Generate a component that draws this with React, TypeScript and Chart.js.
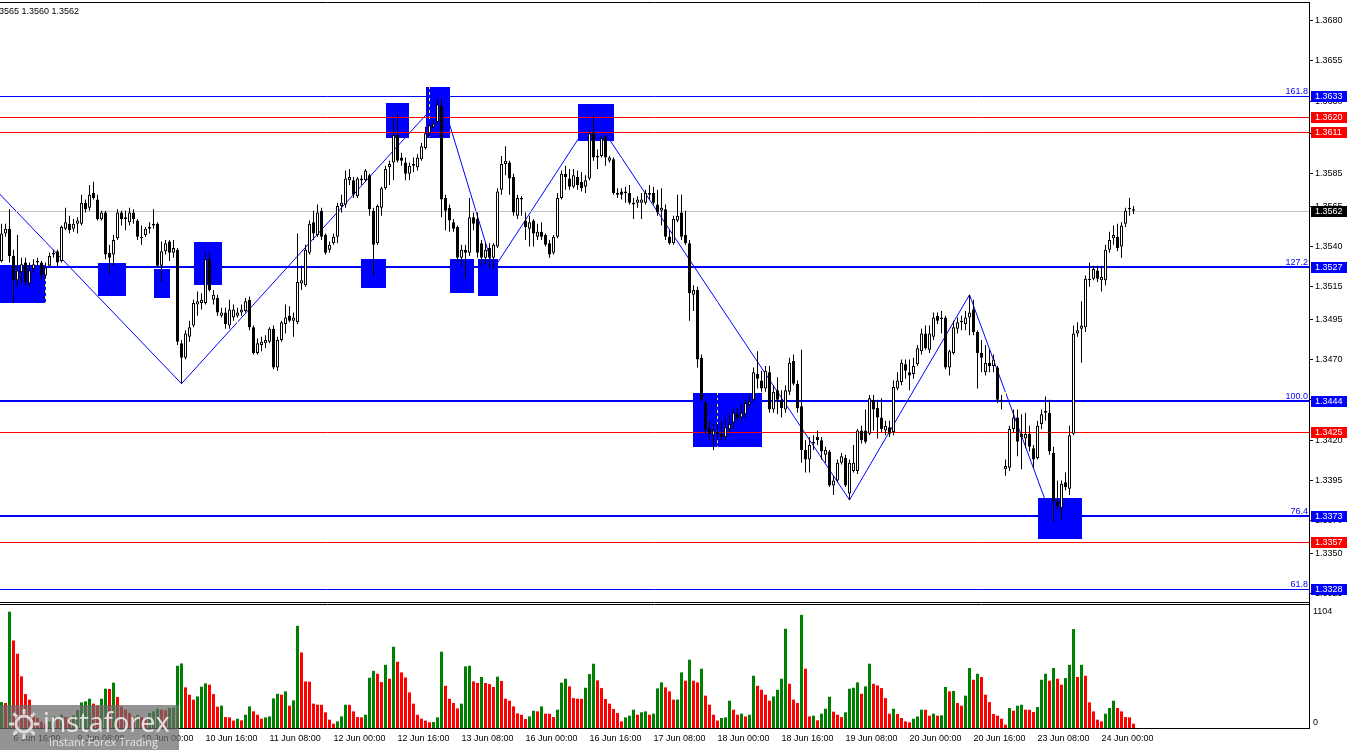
import { useEffect, useRef } from 'react';
import { Chart, registerables } from 'chart.js';

Chart.register(...registerables);

const FONT = '"Liberation Sans", Arial, sans-serif';

// H1 bars; bar 0 = 9 Jun 00:00, first visible bar = 6 Jun 13:00
const firstBarIndex = -11;

const opens = [
  1.3531,1.3548,1.3551,1.3534,1.3519,1.3524,1.3530,1.3517,1.3526,1.3530,1.3530,1.3522,
  1.3528,1.3535,1.3537,1.3531,1.3551,1.3554,1.3551,1.3554,1.3554,1.3567,1.3564,1.3573,
  1.3569,1.3557,1.3561,1.3536,1.3535,1.3545,1.3561,1.3558,1.3555,1.3561,1.3556,1.3546,
  1.3547,1.3551,1.3554,1.3554,1.3528,1.3537,1.3543,1.3536,1.3538,1.3480,1.3471,1.3484,
  1.3491,1.3504,1.3505,1.3505,1.3532,1.3507,1.3508,1.3497,1.3499,1.3491,1.3496,1.3497,
  1.3499,1.3500,1.3507,1.3490,1.3474,1.3479,1.3480,1.3481,1.3489,1.3465,1.3482,1.3492,
  1.3497,1.3494,1.3493,1.3517,1.3516,1.3536,1.3555,1.3547,1.3562,1.3547,1.3538,1.3542,
  1.3546,1.3565,1.3566,1.3581,1.3581,1.3571,1.3581,1.3581,1.3584,1.3562,1.3542,1.3564,
  1.3576,1.3589,1.3592,1.3609,1.3595,1.3592,1.3585,1.3591,1.3589,1.3594,1.3601,1.3610,
  1.3614,1.3617,1.3627,1.3570,1.3564,1.3555,1.3552,1.3533,1.3538,1.3536,1.3558,1.3557,
  1.3542,1.3533,1.3539,1.3533,1.3540,1.3575,1.3591,1.3592,1.3583,1.3559,1.3570,1.3556,
  1.3551,1.3556,1.3546,1.3549,1.3547,1.3542,1.3536,1.3546,1.3570,1.3585,1.3582,1.3577,
  1.3583,1.3580,1.3577,1.3582,1.3611,1.3596,1.3596,1.3608,1.3593,1.3594,1.3573,1.3574,
  1.3574,1.3573,1.3567,1.3567,1.3567,1.3567,1.3573,1.3573,1.3566,1.3562,1.3563,1.3546,
  1.3542,1.3556,1.3561,1.3547,1.3542,1.3510,1.3513,1.3471,1.3443,1.3427,1.3423,1.3424,
  1.3424,1.3422,1.3427,1.3431,1.3436,1.3434,1.3436,1.3442,1.3445,1.3461,1.3457,1.3452,
  1.3462,1.3439,1.3451,1.3445,1.3439,1.3450,1.3469,1.3455,1.3441,1.3414,1.3408,1.3418,
  1.3422,1.3420,1.3411,1.3413,1.3392,1.3395,1.3406,1.3409,1.3387,1.3401,1.3401,1.3426,
  1.3426,1.3424,1.3445,1.3440,1.3434,1.3426,1.3428,1.3425,1.3452,1.3456,1.3467,1.3462,
  1.3461,1.3467,1.3475,1.3486,1.3476,1.3484,1.3497,1.3496,1.3496,1.3465,1.3474,1.3489,
  1.3493,1.3492,1.3496,1.3501,1.3487,1.3474,1.3462,1.3468,1.3466,1.3465,1.3444,1.3402,
  1.3403,1.3427,1.3434,1.3424,1.3421,1.3424,1.3415,1.3409,1.3430,1.3437,1.3437,1.3412,
  1.3382,1.3378,1.3394,1.3390,1.3424,1.3486,1.3489,1.3490,1.3520,1.3520,1.3525,1.3519,
  1.3519,1.3538,1.3545,1.3546,1.3540,1.3554,1.3563,1.3563,
];

const highs = [
  1.3554,1.3554,1.3563,1.3538,1.3547,1.3533,1.3533,1.3530,1.3532,1.3533,1.3531,1.3530,
  1.3536,1.3538,1.3538,1.3553,1.3564,1.3559,1.3557,1.3558,1.3572,1.3569,1.3578,1.3580,
  1.3572,1.3562,1.3562,1.3541,1.3547,1.3563,1.3562,1.3562,1.3564,1.3563,1.3557,1.3553,
  1.3552,1.3555,1.3563,1.3555,1.3543,1.3544,1.3544,1.3544,1.3539,1.3482,1.3488,1.3494,
  1.3507,1.3512,1.3511,1.3536,1.3536,1.3513,1.3510,1.3502,1.3502,1.3507,1.3504,1.3502,
  1.3504,1.3508,1.3509,1.3491,1.3483,1.3484,1.3485,1.3490,1.3491,1.3484,1.3494,1.3504,
  1.3503,1.3499,1.3548,1.3528,1.3541,1.3556,1.3562,1.3566,1.3564,1.3548,1.3543,1.3548,
  1.3567,1.3572,1.3587,1.3588,1.3583,1.3583,1.3584,1.3588,1.3585,1.3564,1.3566,1.3577,
  1.3590,1.3593,1.3619,1.3622,1.3598,1.3595,1.3592,1.3595,1.3597,1.3604,1.3614,1.3617,
  1.3618,1.3631,1.3632,1.3572,1.3566,1.3557,1.3553,1.3541,1.3541,1.3570,1.3561,1.3561,
  1.3544,1.3542,1.3542,1.3542,1.3576,1.3596,1.3602,1.3593,1.3585,1.3572,1.3571,1.3561,
  1.3559,1.3557,1.3554,1.3555,1.3548,1.3544,1.3547,1.3573,1.3587,1.3590,1.3588,1.3588,
  1.3587,1.3586,1.3584,1.3612,1.3621,1.3600,1.3608,1.3609,1.3596,1.3595,1.3576,1.3576,
  1.3577,1.3578,1.3570,1.3571,1.3573,1.3575,1.3578,1.3577,1.3575,1.3576,1.3566,1.3550,
  1.3559,1.3572,1.3572,1.3562,1.3544,1.3516,1.3515,1.3473,1.3445,1.3432,1.3430,1.3430,
  1.3432,1.3434,1.3436,1.3439,1.3440,1.3442,1.3445,1.3448,1.3465,1.3475,1.3463,1.3466,
  1.3466,1.3454,1.3459,1.3451,1.3454,1.3471,1.3473,1.3457,1.3476,1.3420,1.3422,1.3423,
  1.3426,1.3422,1.3416,1.3414,1.3398,1.3408,1.3412,1.3411,1.3408,1.3417,1.3427,1.3429,
  1.3439,1.3448,1.3448,1.3445,1.3446,1.3432,1.3432,1.3457,1.3462,1.3470,1.3470,1.3470,
  1.3471,1.3479,1.3489,1.3491,1.3491,1.3499,1.3499,1.3500,1.3497,1.3476,1.3494,1.3496,
  1.3497,1.3500,1.3510,1.3507,1.3488,1.3482,1.3479,1.3476,1.3473,1.3466,1.3448,1.3408,
  1.3429,1.3439,1.3439,1.3436,1.3437,1.3429,1.3417,1.3432,1.3439,1.3447,1.3445,1.3416,
  1.3395,1.3395,1.3400,1.3429,1.3491,1.3493,1.3506,1.3522,1.3530,1.3528,1.3528,1.3528,
  1.3541,1.3549,1.3553,1.3554,1.3555,1.3564,1.3570,1.3565,
];

const lows = [
  1.3530,1.3546,1.3530,1.3505,1.3515,1.3517,1.3516,1.3515,1.3524,1.3528,1.3519,1.3520,
  1.3527,1.3533,1.3527,1.3530,1.3550,1.3548,1.3549,1.3548,1.3553,1.3561,1.3562,1.3569,
  1.3556,1.3556,1.3532,1.3523,1.3528,1.3544,1.3553,1.3550,1.3553,1.3554,1.3544,1.3541,
  1.3546,1.3548,1.3551,1.3527,1.3518,1.3535,1.3531,1.3533,1.3479,1.3455,1.3470,1.3481,
  1.3490,1.3497,1.3501,1.3504,1.3512,1.3504,1.3497,1.3496,1.3489,1.3489,1.3494,1.3496,
  1.3497,1.3499,1.3488,1.3473,1.3473,1.3475,1.3477,1.3480,1.3464,1.3463,1.3481,1.3486,
  1.3493,1.3484,1.3492,1.3513,1.3515,1.3535,1.3544,1.3546,1.3544,1.3535,1.3536,1.3541,
  1.3542,1.3561,1.3564,1.3578,1.3570,1.3570,1.3578,1.3580,1.3559,1.3522,1.3541,1.3559,
  1.3575,1.3578,1.3581,1.3592,1.3590,1.3581,1.3581,1.3586,1.3587,1.3593,1.3600,1.3608,
  1.3613,1.3616,1.3558,1.3550,1.3549,1.3549,1.3530,1.3528,1.3520,1.3534,1.3550,1.3533,
  1.3528,1.3529,1.3527,1.3526,1.3539,1.3572,1.3584,1.3572,1.3559,1.3557,1.3559,1.3544,
  1.3540,1.3540,1.3544,1.3544,1.3540,1.3533,1.3535,1.3545,1.3569,1.3575,1.3575,1.3576,
  1.3575,1.3574,1.3573,1.3581,1.3593,1.3588,1.3595,1.3590,1.3592,1.3572,1.3570,1.3569,
  1.3567,1.3566,1.3557,1.3564,1.3557,1.3566,1.3569,1.3566,1.3559,1.3553,1.3544,1.3541,
  1.3541,1.3555,1.3544,1.3541,1.3494,1.3500,1.3465,1.3444,1.3424,1.3420,1.3414,1.3420,
  1.3420,1.3420,1.3425,1.3427,1.3432,1.3432,1.3434,1.3440,1.3444,1.3452,1.3450,1.3450,
  1.3437,1.3437,1.3436,1.3434,1.3437,1.3448,1.3454,1.3437,1.3406,1.3400,1.3400,1.3414,
  1.3417,1.3408,1.3406,1.3391,1.3386,1.3394,1.3405,1.3391,1.3383,1.3400,1.3399,1.3418,
  1.3418,1.3423,1.3426,1.3421,1.3425,1.3423,1.3422,1.3423,1.3451,1.3454,1.3458,1.3451,
  1.3458,1.3466,1.3473,1.3476,1.3474,1.3482,1.3492,1.3486,1.3464,1.3460,1.3473,1.3486,
  1.3488,1.3488,1.3485,1.3485,1.3452,1.3462,1.3460,1.3462,1.3462,1.3443,1.3439,1.3398,
  1.3401,1.3425,1.3410,1.3402,1.3415,1.3413,1.3403,1.3408,1.3427,1.3432,1.3411,1.3369,
  1.3377,1.3371,1.3389,1.3386,1.3423,1.3484,1.3468,1.3487,1.3515,1.3519,1.3518,1.3512,
  1.3516,1.3536,1.3541,1.3537,1.3533,1.3552,1.3559,1.3560,
];

const closes = [
  1.3548,1.3551,1.3534,1.3519,1.3525,1.3529,1.3518,1.3525,1.3529,1.3531,1.3522,1.3527,
  1.3534,1.3536,1.3530,1.3552,1.3555,1.3550,1.3554,1.3556,1.3567,1.3563,1.3572,1.3570,
  1.3557,1.3561,1.3535,1.3533,1.3544,1.3561,1.3557,1.3557,1.3561,1.3557,1.3546,1.3545,
  1.3551,1.3552,1.3553,1.3528,1.3537,1.3542,1.3536,1.3539,1.3481,1.3471,1.3486,1.3490,
  1.3505,1.3506,1.3507,1.3532,1.3513,1.3510,1.3499,1.3499,1.3492,1.3501,1.3501,1.3499,
  1.3501,1.3506,1.3490,1.3474,1.3480,1.3481,1.3482,1.3489,1.3465,1.3482,1.3493,1.3496,
  1.3494,1.3496,1.3518,1.3519,1.3538,1.3554,1.3548,1.3561,1.3546,1.3536,1.3541,1.3546,
  1.3565,1.3567,1.3582,1.3583,1.3572,1.3582,1.3582,1.3587,1.3563,1.3541,1.3565,1.3576,
  1.3588,1.3591,1.3609,1.3593,1.3593,1.3585,1.3590,1.3590,1.3595,1.3602,1.3610,1.3615,
  1.3616,1.3628,1.3569,1.3562,1.3556,1.3551,1.3533,1.3538,1.3536,1.3558,1.3554,1.3536,
  1.3533,1.3538,1.3533,1.3541,1.3574,1.3591,1.3593,1.3582,1.3561,1.3570,1.3569,1.3552,
  1.3555,1.3548,1.3549,1.3546,1.3541,1.3535,1.3546,1.3570,1.3585,1.3583,1.3577,1.3584,
  1.3578,1.3576,1.3581,1.3610,1.3595,1.3595,1.3607,1.3595,1.3595,1.3573,1.3572,1.3572,
  1.3573,1.3567,1.3566,1.3569,1.3569,1.3573,1.3572,1.3567,1.3561,1.3564,1.3546,1.3542,
  1.3557,1.3559,1.3546,1.3542,1.3511,1.3513,1.3470,1.3445,1.3426,1.3424,1.3426,1.3425,
  1.3422,1.3428,1.3430,1.3437,1.3434,1.3437,1.3443,1.3444,1.3462,1.3458,1.3452,1.3463,
  1.3439,1.3450,1.3445,1.3440,1.3451,1.3468,1.3455,1.3440,1.3414,1.3408,1.3417,1.3419,
  1.3420,1.3413,1.3414,1.3392,1.3395,1.3406,1.3410,1.3392,1.3406,1.3406,1.3426,1.3420,
  1.3419,1.3446,1.3439,1.3434,1.3427,1.3429,1.3424,1.3453,1.3457,1.3468,1.3463,1.3460,
  1.3466,1.3477,1.3486,1.3477,1.3486,1.3496,1.3494,1.3495,1.3465,1.3475,1.3490,1.3493,
  1.3494,1.3496,1.3499,1.3487,1.3474,1.3471,1.3468,1.3466,1.3470,1.3445,1.3445,1.3404,
  1.3427,1.3434,1.3419,1.3422,1.3424,1.3416,1.3408,1.3429,1.3436,1.3438,1.3413,1.3382,
  1.3379,1.3393,1.3391,1.3423,1.3486,1.3488,1.3491,1.3520,1.3519,1.3526,1.3520,1.3521,
  1.3538,1.3544,1.3547,1.3539,1.3553,1.3562,1.3564,1.3562,
];

const volumes = [
  246,237,1104,831,705,490,322,269,142,95,60,41,
  60,110,95,126,105,100,120,170,243,253,278,231,
  212,278,373,370,430,294,205,174,142,110,126,104,
  95,142,158,183,174,167,190,196,591,613,386,316,
  269,300,392,424,411,322,202,212,104,101,70,88,
  73,126,205,158,126,88,101,110,281,325,316,348,
  212,262,970,717,442,440,231,221,220,149,79,41,
  63,110,221,220,158,104,101,126,477,543,515,436,
  600,468,771,629,528,480,338,231,126,88,70,54,
  57,101,724,401,278,237,186,231,585,591,442,427,
  484,427,417,389,487,446,278,259,205,139,126,85,
  110,164,158,205,136,135,104,174,430,468,395,284,
  278,277,382,512,610,452,379,275,231,180,142,63,
  101,117,174,126,149,158,126,136,376,433,386,348,
  269,270,528,449,648,449,433,563,307,221,126,70,
  95,101,259,174,126,136,110,126,496,401,363,316,
  259,300,363,468,942,420,269,237,1074,563,110,117,
  73,136,183,297,155,126,104,149,373,382,433,325,
  395,610,420,404,379,284,136,183,133,95,63,54,
  88,110,174,173,117,136,117,120,389,348,352,237,
  212,307,569,458,515,484,316,246,133,117,88,32,
  190,164,212,221,174,173,152,199,458,515,449,569,
  468,411,474,600,939,484,600,496,243,158,79,63,
  136,190,259,190,158,104,101,41,
];

const timeLabelBars = [-8, 8, 24, 40, 56, 72, 88, 104, 120, 136, 152, 168, 184, 200, 216, 232, 248, 264];
const timeLabels = [
  '6 Jun 16:00', '9 Jun 08:00', '10 Jun 00:00', '10 Jun 16:00', '11 Jun 08:00', '12 Jun 00:00',
  '12 Jun 16:00', '13 Jun 08:00', '16 Jun 00:00', '16 Jun 16:00', '17 Jun 08:00', '18 Jun 00:00',
  '18 Jun 16:00', '19 Jun 08:00', '20 Jun 00:00', '20 Jun 16:00', '23 Jun 08:00', '24 Jun 00:00',
];
const dayStartBars = [0, 24, 48, 72, 96, 120, 144, 168, 192, 216, 240, 264, 288, 312];

const priceTicks = [1.3680, 1.3655, 1.3630, 1.3610, 1.3585, 1.3565, 1.3540, 1.3515, 1.3495, 1.3470, 1.3445, 1.3420, 1.3395, 1.3370, 1.3350, 1.3325];
const volumeTicks = [1104, 0];

const zigzagBars = [-14, 34, 99, 112, 137, 201, 231, 252];
const zigzagPrices = [1.3579, 1.3455, 1.3632, 1.3526, 1.3621, 1.3383, 1.3510, 1.3369];

const boxStartBars = [-12, 13, 27, 37, 79, 85, 95, 101, 108, 133, 162, 248];
const boxEndBars = [0, 20, 31, 44, 85, 91, 101, 107, 113, 142, 179, 259];
const boxTopPrices = [1.35285, 1.3530, 1.3526, 1.3543, 1.3532, 1.3629, 1.3639, 1.3532, 1.3532, 1.3628, 1.3449, 1.3384];
const boxBottomPrices = [1.3505, 1.3509, 1.3508, 1.3516, 1.3514, 1.3607, 1.3607, 1.3511, 1.3509, 1.3605, 1.3416, 1.3359];

const levelPrices = [1.3633, 1.3620, 1.3611, 1.3527, 1.3444, 1.3425, 1.3373, 1.3357, 1.3328];
const levelNames = ['161.8', '', '', '127.2', '100.0', '', '76.4', '', '61.8'];
const levelKinds = ['fibMinor', 'sr', 'sr', 'fib', 'fib', 'sr', 'fib', 'sr', 'fibMinor'];
const bidPrice = 1.3562;
const ohlcText = '3565 1.3560 1.3562';

const KIND_STYLE: Record<string, { color: string; width: number }> = {
  fib: { color: '#0000ff', width: 2 },
  fibMinor: { color: '#0000ff', width: 1 },
  sr: { color: '#ff0000', width: 1 },
};

const PRICE_PANE_BOTTOM = 602;
const VOLUME_PANE_TOP = 604;

export default function App() {
  const ref = useRef<HTMLCanvasElement>(null);

  useEffect(() => {
    document.body.style.margin = '0';
    const canvas = ref.current;
    if (!canvas) return;

    const bars = opens.map((_, k) => firstBarIndex + k);
    const wickData = bars.map((b, k) => ({ x: b, y: [lows[k], highs[k]] }));
    const bodyData = bars.map((b, k) => {
      let lo = Math.min(opens[k], closes[k]);
      let hi = Math.max(opens[k], closes[k]);
      if (hi - lo < 0.00007) {
        const m = (hi + lo) / 2;
        lo = m - 0.000035;
        hi = m + 0.000035;
      }
      return { x: b, y: [lo, hi] };
    });
    const bodyColors = opens.map((o, k) => (closes[k] > o ? '#ffffff' : '#000000'));
    const volData = bars.map((b, k) => ({ x: b, y: volumes[k] }));
    const volColors = volumes.map((v, k) => (k === 0 || v > volumes[k - 1] ? '#008000' : '#ff0000'));
    const zigData = zigzagBars.map((b, k) => ({ x: b, y: zigzagPrices[k] }));

    const mt4Plugin = {
      id: 'mt4',
      afterDatasetDraw(chart: any, args: any) {
        if (args.index !== 3) return;
        const { ctx, chartArea: ca } = chart;
        const xs = chart.scales.x;
        const ys = chart.scales.y;
        // rectangles (price pane only)
        ctx.save();
        ctx.beginPath();
        ctx.rect(ca.left, ca.top, ca.right - ca.left, PRICE_PANE_BOTTOM - ca.top);
        ctx.clip();
        ctx.fillStyle = '#0000ff';
        boxStartBars.forEach((s, k) => {
          const x1 = Math.round(xs.getPixelForValue(s));
          const x2 = Math.round(xs.getPixelForValue(boxEndBars[k]));
          const y1 = Math.round(ys.getPixelForValue(boxTopPrices[k]));
          const y2 = Math.round(ys.getPixelForValue(boxBottomPrices[k]));
          ctx.fillRect(x1, y1, x2 - x1, y2 - y1);
        });
        ctx.restore();

        // dashed day separators (inverted like MT4 grid)
        ctx.save();
        ctx.globalCompositeOperation = 'difference';
        ctx.strokeStyle = '#ffffff';
        ctx.lineWidth = 1;
        ctx.setLineDash([3, 3]);
        dayStartBars.forEach((d) => {
          const px = xs.getPixelForValue(d);
          if (px < ca.left || px > ca.right - 1) return;
          ctx.beginPath();
          ctx.moveTo(px, ca.top);
          ctx.lineTo(px, ca.bottom);
          ctx.stroke();
        });
        ctx.restore();

        // levels + bid line
        ctx.save();
        ctx.beginPath();
        ctx.rect(ca.left, ca.top, ca.right - ca.left, PRICE_PANE_BOTTOM - ca.top);
        ctx.clip();
        const bidY = Math.round(ys.getPixelForValue(bidPrice)) + 0.5;
        ctx.strokeStyle = '#c0c0c0';
        ctx.lineWidth = 1;
        ctx.beginPath();
        ctx.moveTo(ca.left, bidY);
        ctx.lineTo(ca.right, bidY);
        ctx.stroke();
        levelPrices.forEach((p, k) => {
          const st = KIND_STYLE[levelKinds[k]];
          const py = Math.round(ys.getPixelForValue(p));
          ctx.strokeStyle = st.color;
          ctx.lineWidth = st.width;
          const yy = st.width % 2 === 1 ? py + 0.5 : py;
          ctx.beginPath();
          ctx.moveTo(ca.left, yy);
          ctx.lineTo(ca.right, yy);
          ctx.stroke();
        });
        ctx.restore();
      },
      afterDraw(chart: any) {
        const { ctx, chartArea: ca } = chart;
        const ys = chart.scales.y;
        const yv = chart.scales.yv;
        ctx.save();
        // pane frames
        ctx.strokeStyle = '#000000';
        ctx.lineWidth = 1;
        ctx.beginPath();
        ctx.moveTo(0, ca.top + 0.5);
        ctx.lineTo(ca.right, ca.top + 0.5);
        ctx.moveTo(0, PRICE_PANE_BOTTOM + 0.5);
        ctx.lineTo(ca.right, PRICE_PANE_BOTTOM + 0.5);
        ctx.moveTo(0, VOLUME_PANE_TOP + 0.5);
        ctx.lineTo(ca.right, VOLUME_PANE_TOP + 0.5);
        ctx.stroke();
        ctx.fillStyle = '#ffffff';
        ctx.fillRect(0, PRICE_PANE_BOTTOM + 1, ca.right, VOLUME_PANE_TOP - PRICE_PANE_BOTTOM - 1);

        ctx.font = `9px ${FONT}`;
        // level names
        ctx.textAlign = 'right';
        ctx.textBaseline = 'alphabetic';
        ctx.fillStyle = '#0000ff';
        levelPrices.forEach((p, k) => {
          if (!levelNames[k]) return;
          const py = Math.round(ys.getPixelForValue(p));
          ctx.fillText(levelNames[k], ca.right - 1, py - 2);
        });
        // axis tags
        ctx.textAlign = 'left';
        ctx.textBaseline = 'middle';
        const tag = (p: number, bg: string) => {
          const py = Math.round(ys.getPixelForValue(p));
          ctx.fillStyle = bg;
          ctx.fillRect(ca.right + 2, py - 5, 36, 11);
          ctx.fillStyle = '#ffffff';
          ctx.fillText(p.toFixed(4), ca.right + 6, py + 0.5);
        };
        tag(bidPrice, '#000000');
        levelPrices.forEach((p, k) => tag(p, KIND_STYLE[levelKinds[k]].color));

        // volume axis labels
        ctx.fillStyle = '#000000';
        volumeTicks.forEach((v) => {
          let py = yv.getPixelForValue(v);
          if (v === 0) py -= 5;
          ctx.fillText(String(v), ca.right + 4, py);
        });

        // OHLC info
        ctx.textBaseline = 'alphabetic';
        ctx.fillText(ohlcText, -1, 14);

        // watermark
        ctx.fillStyle = 'rgba(105,105,105,0.72)';
        ctx.fillRect(0, 705, 179, 45);
        ctx.strokeStyle = 'rgba(235,235,235,0.85)';
        ctx.lineWidth = 3;
        ctx.beginPath();
        ctx.arc(24, 724, 8, 0, Math.PI * 2);
        ctx.stroke();
        for (let k = 0; k < 8; k++) {
          const a = (k * Math.PI) / 4;
          ctx.beginPath();
          ctx.moveTo(24 + Math.cos(a) * 10, 724 + Math.sin(a) * 10);
          ctx.lineTo(24 + Math.cos(a) * 15, 724 + Math.sin(a) * 15);
          ctx.stroke();
        }
        ctx.fillStyle = 'rgba(238,238,238,0.9)';
        ctx.font = '27px "Open Sans", sans-serif';
        ctx.fillText('instaforex', 43, 732);
        ctx.font = '11px "Open Sans", sans-serif';
        ctx.fillText('Instant Forex Trading', 49, 746);
        ctx.restore();
      },
    };

    const chart = new Chart(canvas, {
      type: 'bar',
      data: {
        datasets: [
          {
            type: 'bar', label: 'bodies', data: bodyData as any, backgroundColor: bodyColors,
            borderColor: '#000000', borderWidth: 1, borderSkipped: false, barThickness: 3,
            grouped: false, order: 0, inflateAmount: 0, yAxisID: 'y', xAxisID: 'x',
          } as any,
          {
            type: 'bar', label: 'wicks', data: wickData as any, backgroundColor: '#000000',
            borderWidth: 0, barThickness: 1, grouped: false, order: 1, inflateAmount: 0, yAxisID: 'y', xAxisID: 'x',
          } as any,
          {
            type: 'bar', label: 'volume', data: volData as any, backgroundColor: volColors,
            borderWidth: 0, barThickness: 3, grouped: false, order: 2, inflateAmount: 0, yAxisID: 'yv', xAxisID: 'x',
          } as any,
          {
            type: 'line', label: 'zigzag', data: zigData as any, borderColor: '#0000ff', borderWidth: 1,
            pointRadius: 0, tension: 0, fill: false, order: 5, yAxisID: 'y', xAxisID: 'x',
          } as any,
        ],
      },
      options: {
        animation: false,
        responsive: false,
        devicePixelRatio: 1,
        events: [],
        layout: { padding: { top: 2, left: 0, right: 0, bottom: 0 } },
        plugins: { legend: { display: false }, tooltip: { enabled: false } },
        scales: {
          x: {
            type: 'linear',
            position: 'bottom',
            min: -11.375,
            max: 315.875,
            bounds: 'data',
            offset: false,
            grid: { display: false, drawTicks: false, tickLength: 0 },
            border: { display: true, color: '#000000', width: 1 },
            afterBuildTicks: (scale: any) => {
              scale.ticks = timeLabelBars.map((v) => ({ value: v }));
            },
            afterFit: (scale: any) => {
              scale.height = 22;
              scale.paddingLeft = 0;
              scale.paddingRight = 0;
            },
            ticks: {
              autoSkip: false,
              maxRotation: 0,
              minRotation: 0,
              align: 'start',
              padding: 5,
              color: '#000000',
              font: { family: FONT, size: 9 },
              callback: (_v: any, i: number) => timeLabels[i],
            },
          },
          y: {
            type: 'linear',
            position: 'right',
            min: 1.324179,
            max: 1.369133,
            bounds: 'data',
            grid: { display: true, drawOnChartArea: false, drawTicks: true, tickLength: 4, color: '#000000' },
            border: { display: true, color: '#000000', width: 1 },
            afterBuildTicks: (scale: any) => {
              scale.ticks = priceTicks.map((v) => ({ value: v }));
            },
            afterFit: (scale: any) => {
              scale.width = 41;
              scale.paddingTop = 0;
              scale.paddingBottom = 0;
            },
            ticks: {
              autoSkip: false,
              padding: 2,
              color: '#000000',
              font: { family: FONT, size: 9 },
              callback: (v: any) => Number(v).toFixed(4),
            },
          },
          yv: {
            type: 'linear',
            display: false,
            min: 0,
            max: 6892,
          },
        },
      } as any,
      plugins: [mt4Plugin],
    });

    return () => chart.destroy();
  }, []);

  return (
    <div style={{ width: 1350, height: 750, overflow: 'hidden', background: '#ffffff' }}>
      <canvas ref={ref} width={1350} height={750} style={{ display: 'block' }} />
    </div>
  );
}
